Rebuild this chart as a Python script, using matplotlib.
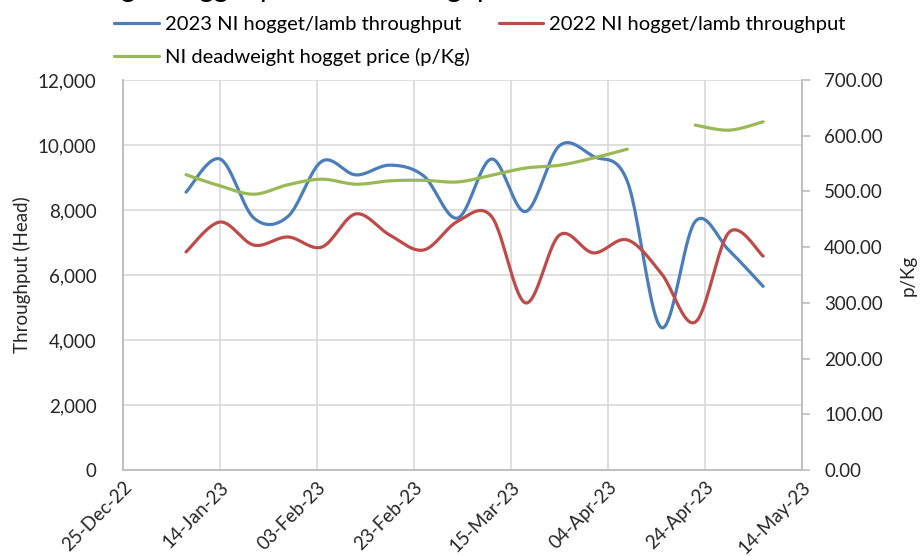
import matplotlib
matplotlib.use("Agg")
import matplotlib.pyplot as plt
import matplotlib.dates as mdates
import numpy as np
import pandas as pd

plt.rcParams['font.family'] = ['Lato', 'DejaVu Sans']

# weekly data
week_dates = ['2023-01-07', '2023-01-14', '2023-01-21', '2023-01-28', '2023-02-04',
              '2023-02-11', '2023-02-18', '2023-02-25', '2023-03-04', '2023-03-11',
              '2023-03-18', '2023-03-25', '2023-04-01', '2023-04-08', '2023-04-15',
              '2023-04-22', '2023-04-29', '2023-05-06']
throughput_2023 = [8550, 9570, 7750, 7800, 9500, 9080, 9380, 9050, 7750, 9570,
                   7950, 9980, 9650, 8880, 4380, 7650, 6750, 5650]
throughput_2022 = [6710, 7630, 6920, 7170, 6860, 7880, 7230, 6770, 7650, 7800,
                   5140, 7230, 6680, 7080, 6050, 4550, 7320, 6580]
hogget_price = [530, 510, 495, 512, 522, 513, 519, 520, 517, 529,
                542, 547, 560, 576, np.nan, 619, 610, 625]

tick_dates = ['2022-12-25', '2023-01-14', '2023-02-03', '2023-02-23',
              '2023-03-15', '2023-04-04', '2023-04-24', '2023-05-14']

blue = '#4a7ebb'
red = '#be4b48'
green = '#98b954'
grid_col = '#d9d9d9'
spine_col = '#bfbfbf'
txt_col = '#262626'


def smooth(x, y, n=20):
    # excel-like smoothed line (catmull-rom bezier), split at gaps
    x = np.asarray(x, float)
    y = np.asarray(y, float)
    out_x, out_y = [], []
    ok = ~np.isnan(y)
    idx = np.where(ok)[0]
    runs = np.split(idx, np.where(np.diff(idx) > 1)[0] + 1)
    for r in runs:
        px, py = x[r], y[r]
        sx, sy = [], []
        for i in range(len(r) - 1):
            i0 = max(i - 1, 0)
            i3 = min(i + 2, len(r) - 1)
            p0 = np.array([px[i0], py[i0]])
            p1 = np.array([px[i], py[i]])
            p2 = np.array([px[i + 1], py[i + 1]])
            p3 = np.array([px[i3], py[i3]])
            b1 = p1 + (p2 - p0) / 6
            b2 = p2 - (p3 - p1) / 6
            t = np.linspace(0, 1, n)[:, None]
            pts = ((1 - t) ** 3) * p1 + 3 * ((1 - t) ** 2) * t * b1 + 3 * (1 - t) * t ** 2 * b2 + t ** 3 * p2
            sx.extend(pts[:, 0])
            sy.extend(pts[:, 1])
        out_x.append(np.array(sx))
        out_y.append(np.array(sy))
    return out_x, out_y


xd = mdates.date2num(pd.to_datetime(week_dates))

fig = plt.figure(figsize=(9.22, 5.56), dpi=100)
ax = fig.add_axes([0.1334, 0.1547, 0.7364, 0.7014])
ax2 = ax.twinx()

lines = []
for vals, col, lab, a in [(throughput_2023, blue, '2023 NI hogget/lamb throughput', ax),
                          (hogget_price, green, 'NI deadweight hogget price (p/Kg)', ax2),
                          (throughput_2022, red, '2022 NI hogget/lamb throughput', ax)]:
    sx, sy = smooth(xd, vals)
    for k in range(len(sx)):
        ln, = a.plot(sx[k], sy[k], color=col, lw=2.3, solid_capstyle='round',
                     label=lab if k == 0 else None, zorder=3)
        if k == 0:
            lines.append(ln)

ticks = mdates.date2num(pd.to_datetime(tick_dates))
ax.set_xlim(ticks[0], ticks[-1])
ax.set_xticks(ticks)
ax.xaxis.set_major_formatter(mdates.DateFormatter('%d-%b-%y'))
ax.set_ylim(0, 12000)
ax.set_yticks(np.arange(0, 12001, 2000))
ax.yaxis.set_major_formatter(matplotlib.ticker.FuncFormatter(lambda v, p: f'{v:,.0f}'))
ax2.set_ylim(0, 700)
ax2.set_yticks(np.arange(0, 701, 100))
ax2.yaxis.set_major_formatter(matplotlib.ticker.FuncFormatter(lambda v, p: f'{v:.2f}'))

ax.grid(True, color=grid_col, lw=1.2, zorder=0)
ax.set_axisbelow(True)
for a in (ax, ax2):
    for s in a.spines.values():
        s.set_color(spine_col)
        s.set_linewidth(1.2)
    a.spines['top'].set_visible(False)

ax.tick_params(axis='y', length=0, pad=19, labelsize=13.5, labelcolor=txt_col)
ax.tick_params(axis='x', length=0, pad=6, labelsize=13.5, labelcolor=txt_col)
for lbl in ax.get_xticklabels():
    lbl.set_rotation(45)
    lbl.set_ha('right')
    lbl.set_rotation_mode('anchor')
ax2.tick_params(axis='y', length=6, width=1.2, color=spine_col, pad=10,
                labelsize=13.5, labelcolor=txt_col)

ax.set_ylabel('Throughput (Head)', fontsize=13.5, color=txt_col, labelpad=5)
ax2.set_ylabel('p/Kg', fontsize=13.5, color=txt_col, labelpad=12)

fig.legend(handles=lines, ncol=2, loc='upper left', bbox_to_anchor=(0.111, 0.993),
           frameon=False, fontsize=14.5, handlelength=2.2, handletextpad=0.3,
           columnspacing=1.45, labelspacing=0.75, borderaxespad=0.2)

# title cut off at top of picture, only its lowest strokes show
fig.text(-0.02, 1 + 3 / 556, 'NI deadweight hogget price and throughput',
         fontsize=20, va='baseline', ha='left', color='black')

fig.savefig('out.png', dpi=100)
